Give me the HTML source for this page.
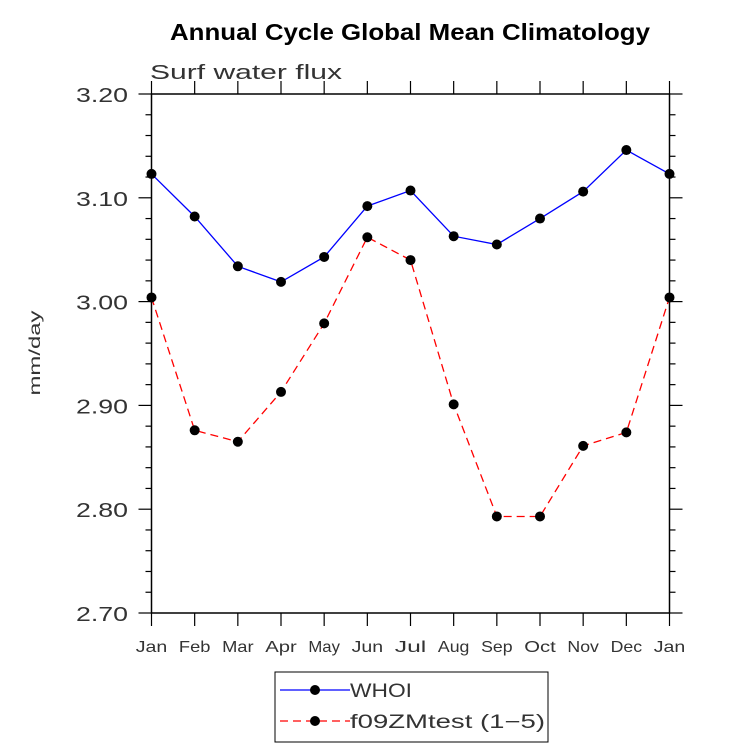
<!DOCTYPE html>
<html><head><meta charset="utf-8"><style>
body{margin:0;background:#fff;}
svg text{font-family:"Liberation Sans",sans-serif;}
</style></head><body>
<svg id="c" width="733" height="748" xmlns="http://www.w3.org/2000/svg">
<text x="170" y="40" font-size="23" font-weight="bold" textLength="480" lengthAdjust="spacingAndGlyphs">Annual Cycle Global Mean Climatology</text>
<text x="150" y="79" font-size="20" fill="#333" textLength="192" lengthAdjust="spacingAndGlyphs">Surf water flux</text>
<text transform="translate(40,353) rotate(-90)" text-anchor="middle" font-size="16" fill="#333" textLength="85" lengthAdjust="spacingAndGlyphs">mm/day</text>
<g id="axes"></g>
<g id="series"></g>
<g>
<rect x="275" y="672" width="273" height="70" fill="none" stroke="#000" stroke-width="1"/>
<line x1="280" y1="690" x2="350" y2="690" stroke="#0000ff" stroke-width="1.3"/>
<circle cx="315" cy="690" r="5" fill="#000"/>
<text x="350" y="697" font-size="19" fill="#333" textLength="62" lengthAdjust="spacingAndGlyphs">WHOI</text>
<line x1="280" y1="721" x2="350" y2="721" stroke="#ff0000" stroke-width="1.3" stroke-dasharray="8,5"/>
<circle cx="315" cy="721" r="5" fill="#000"/>
<text x="350" y="728" font-size="19" fill="#333" textLength="195" lengthAdjust="spacingAndGlyphs">f09ZMtest (1−5)</text>
</g>
</svg>
<script>
const months=["Jan","Feb","Mar","Apr","May","Jun","Jul","Aug","Sep","Oct","Nov","Dec","Jan"];
const whoi=[3.123,3.082,3.034,3.019,3.043,3.092,3.107,3.063,3.055,3.080,3.106,3.146,3.123];
const f09=[3.004,2.876,2.865,2.913,2.979,3.062,3.040,2.901,2.793,2.793,2.861,2.874,3.004];
const yTicks=["2.70","2.80","2.90","3.00","3.10","3.20"];
const L=151.5,R=669.5,T=94,B=613,ymin=2.7,ymax=3.2;
const NS="http://www.w3.org/2000/svg";
const xs=i=>L+(R-L)*i/12, ys=v=>B-(v-ymin)/(ymax-ymin)*(B-T);
function mk(t,a,p){const e=document.createElementNS(NS,t);for(const k in a)e.setAttribute(k,a[k]);p.appendChild(e);return e;}
const ax=document.getElementById('axes');
const fr=mk('rect',{x:L,y:T,width:R-L,height:B-T,fill:'none',stroke:'#000','stroke-width':1.5},ax);


for(let k=0;k<=25;k++){
  const v=ymin+k*0.02,y=ys(v),maj=k%5==0,len=maj?13:6;
  mk('line',{x1:L-len,x2:L,y1:y,y2:y,stroke:'#000','stroke-width':1.2},ax);
  mk('line',{x1:R,x2:R+len,y1:y,y2:y,stroke:'#000','stroke-width':1.2},ax);
}
yTicks.forEach(s=>{
  const t=mk('text',{x:76,y:ys(+s)+8,'font-size':20,fill:'#333',textLength:52,lengthAdjust:'spacingAndGlyphs'},ax);
  t.textContent=s;
  
  
});
months.forEach((m,i)=>{
  const x=xs(i);
  mk('line',{x1:x,x2:x,y1:T-13,y2:T,stroke:'#000','stroke-width':1.2},ax);
  mk('line',{x1:x,x2:x,y1:B,y2:B+13,stroke:'#000','stroke-width':1.2},ax);
  const w=m.length*10.5;
  const t=mk('text',{x:x-w/2,y:652,'font-size':16,fill:'#333',textLength:w,lengthAdjust:'spacingAndGlyphs'},ax);
  t.textContent=m;
  
  
});
const sg=document.getElementById('series');
function draw(vals,color,dash,name){
  const pl=mk('polyline',{points:vals.map((v,i)=>xs(i)+','+ys(v)).join(' '),fill:'none',stroke:color,'stroke-width':1.3,'stroke-dasharray':dash},sg);
  
  
  vals.forEach((v,i)=>{
    const c=mk('circle',{cx:xs(i),cy:ys(v),r:5,fill:'#000'},sg);
    
    
  });
}
draw(whoi,'#0000ff','none','whoi');
draw(f09,'#ff0000','8,5','f09');
</script>
</body></html>
